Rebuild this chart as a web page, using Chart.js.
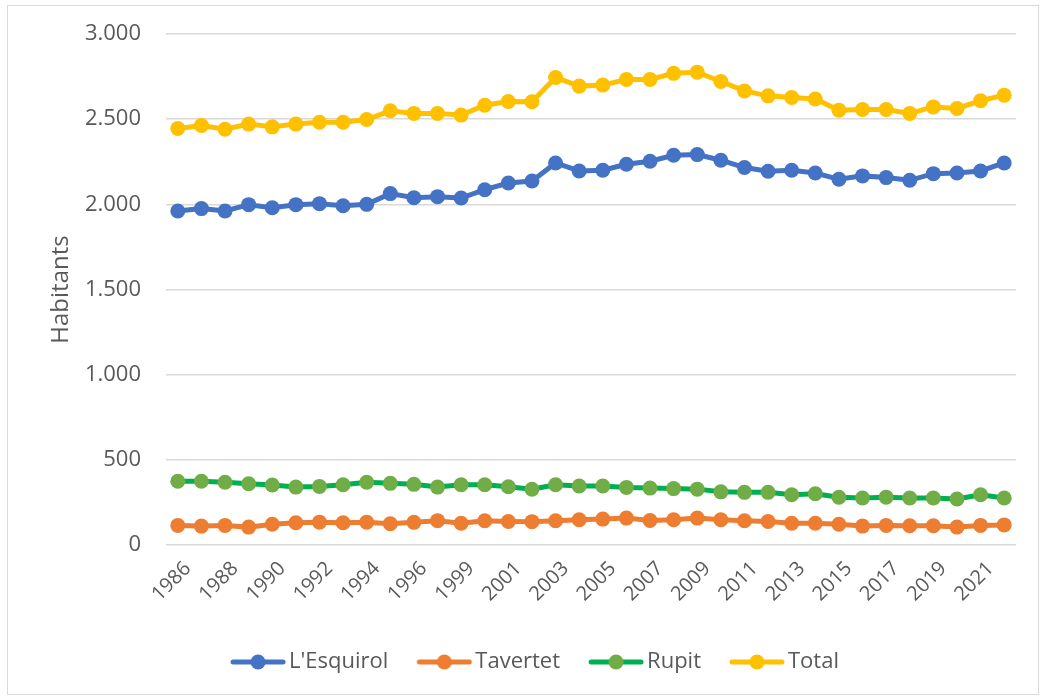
<!DOCTYPE html>
<html>
<head>
<meta charset="utf-8">
<script src="https://cdn.jsdelivr.net/npm/chart.js@4/dist/chart.umd.min.js"></script>
<style>
  html, body { margin: 0; padding: 0; background: #fff; }
  #frame {
    position: absolute; left: 7px; top: 5px;
    width: 1032px; height: 690px;
    box-sizing: border-box;
    border: 1px solid #d9d9d9;
  }
  #chart { display: block; }
</style>
</head>
<body>
<div id="frame"><canvas id="chart" width="1030" height="688"></canvas></div>
<script>
// years (1997 is missing in the source series)
const years = ['1986','1987','1988','1989','1990','1991','1992','1993','1994','1995','1996','1998',
  '1999','2000','2001','2002','2003','2004','2005','2006','2007','2008','2009','2010',
  '2011','2012','2013','2014','2015','2016','2017','2018','2019','2020','2021','2022']

const esquirol = [1961,1975,1961,1998,1980,1998,2004,1992,2000,2063,2039,2045,2037,2086,2125,2137,2243,2196,
  2200,2235,2253,2288,2292,2259,2216,2194,2200,2184,2147,2167,2157,2141,2180,2184,2196,2243]
const tavertet = [115,111,115,105,122,131,134,131,134,125,133,143,128,142,138,137,142,148,
  152,158,144,148,158,148,142,138,128,128,122,111,115,113,113,105,115,118]
const rupit = [374,374,368,360,352,340,344,354,368,362,356,340,354,354,342,327,354,346,
  346,338,334,331,328,312,309,309,295,301,280,276,281,276,276,270,295,276]
const total = [2445,2463,2441,2471,2455,2471,2482,2482,2498,2549,2534,2534,2524,2582,2604,2602,2745,2694,
  2700,2733,2733,2769,2776,2721,2666,2637,2627,2618,2553,2557,2557,2534,2572,2563,2608,2641]

const yTicks = [0, 500, 1000, 1500, 2000, 2500, 3000]

const FONT = "'Open Sans', 'Noto Sans', sans-serif"
const TEXT = '#595959'
const GRID = '#d9d9d9'

const series = [
  { label: "L'Esquirol", data: esquirol, line: '#4472c4', dot: '#4472c4' },
  { label: 'Tavertet', data: tavertet, line: '#ed7d31', dot: '#ed7d31' },
  { label: 'Rupit', data: rupit, line: '#00b050', dot: '#70ad47' },
  { label: 'Total', data: total, line: '#ffc000', dot: '#ffc000' }
]

// legend marker: short line with a dot, drawn in the right part of a wider image
const legendMarker = (line, dot) => {
  const c = document.createElement('canvas')
  c.width = 82
  c.height = 18
  const g = c.getContext('2d')
  const x0 = 26
  g.strokeStyle = line
  g.lineWidth = 5
  g.lineCap = 'round'
  g.beginPath()
  g.moveTo(x0 + 3, 9)
  g.lineTo(x0 + 53, 9)
  g.stroke()
  g.fillStyle = dot
  g.beginPath()
  g.arc(x0 + 28, 9, 7.5, 0, Math.PI * 2)
  g.fill()
  return c
}

const fmt = v => String(v).replace(/\B(?=(\d{3})+(?!\d))/g, '.')

const ctx = document.getElementById('chart').getContext('2d')
new Chart(ctx, {
  type: 'line',
  data: {
    labels: years,
    datasets: series.map(s => ({
      label: s.label,
      data: s.data,
      borderColor: s.line,
      backgroundColor: s.dot,
      pointBackgroundColor: s.dot,
      pointBorderWidth: 0,
      pointRadius: 7.5,
      pointHoverRadius: 7.5,
      borderWidth: 5,
      tension: 0
    }))
  },
  options: {
    responsive: false,
    animation: false,
    layout: { padding: { top: 28, right: 22, left: 27, bottom: 11 } },
    plugins: {
      tooltip: { enabled: false },
      legend: {
        position: 'bottom',
        labels: {
          usePointStyle: true,
          pointStyleWidth: 66,
          padding: 10,
          color: TEXT,
          font: { family: FONT, size: 22 },
          generateLabels: chart => series.map((s, i) => ({
            text: s.label,
            pointStyle: legendMarker(s.line, s.dot),
            fontColor: TEXT,
            datasetIndex: i,
            hidden: false,
            lineWidth: 0,
            strokeStyle: 'transparent',
            fillStyle: 'transparent'
          }))
        }
      }
    },
    scales: {
      x: {
        offset: true,
        grid: { display: false },
        border: { display: false },
        afterFit: scale => { scale.height = 96 },
        ticks: {
          autoSkip: false,
          maxRotation: 45,
          minRotation: 45,
          padding: 4,
          labelOffset: 10,
          color: TEXT,
          font: { family: FONT, size: 20 },
          callback: (v, i) => (i % 2 === 0 ? years[i] : '')
        }
      },
      y: {
        min: 0,
        max: 3000,
        afterBuildTicks: scale => { scale.ticks = yTicks.map(v => ({ value: v })) },
        afterFit: scale => { scale.width = 131 },
        grid: { color: GRID, lineWidth: 1.5, drawTicks: true, tickLength: 25, tickColor: 'rgba(0,0,0,0)' },
        border: { display: false },
        ticks: {
          padding: 0,
          color: TEXT,
          font: { family: FONT, size: 22 },
          callback: v => fmt(v)
        },
        title: {
          display: true,
          text: 'Habitants',
          color: TEXT,
          font: { family: FONT, size: 24 },
          padding: { top: 12, bottom: 0 }
        }
      }
    }
  }
})
</script>
</body>
</html>
